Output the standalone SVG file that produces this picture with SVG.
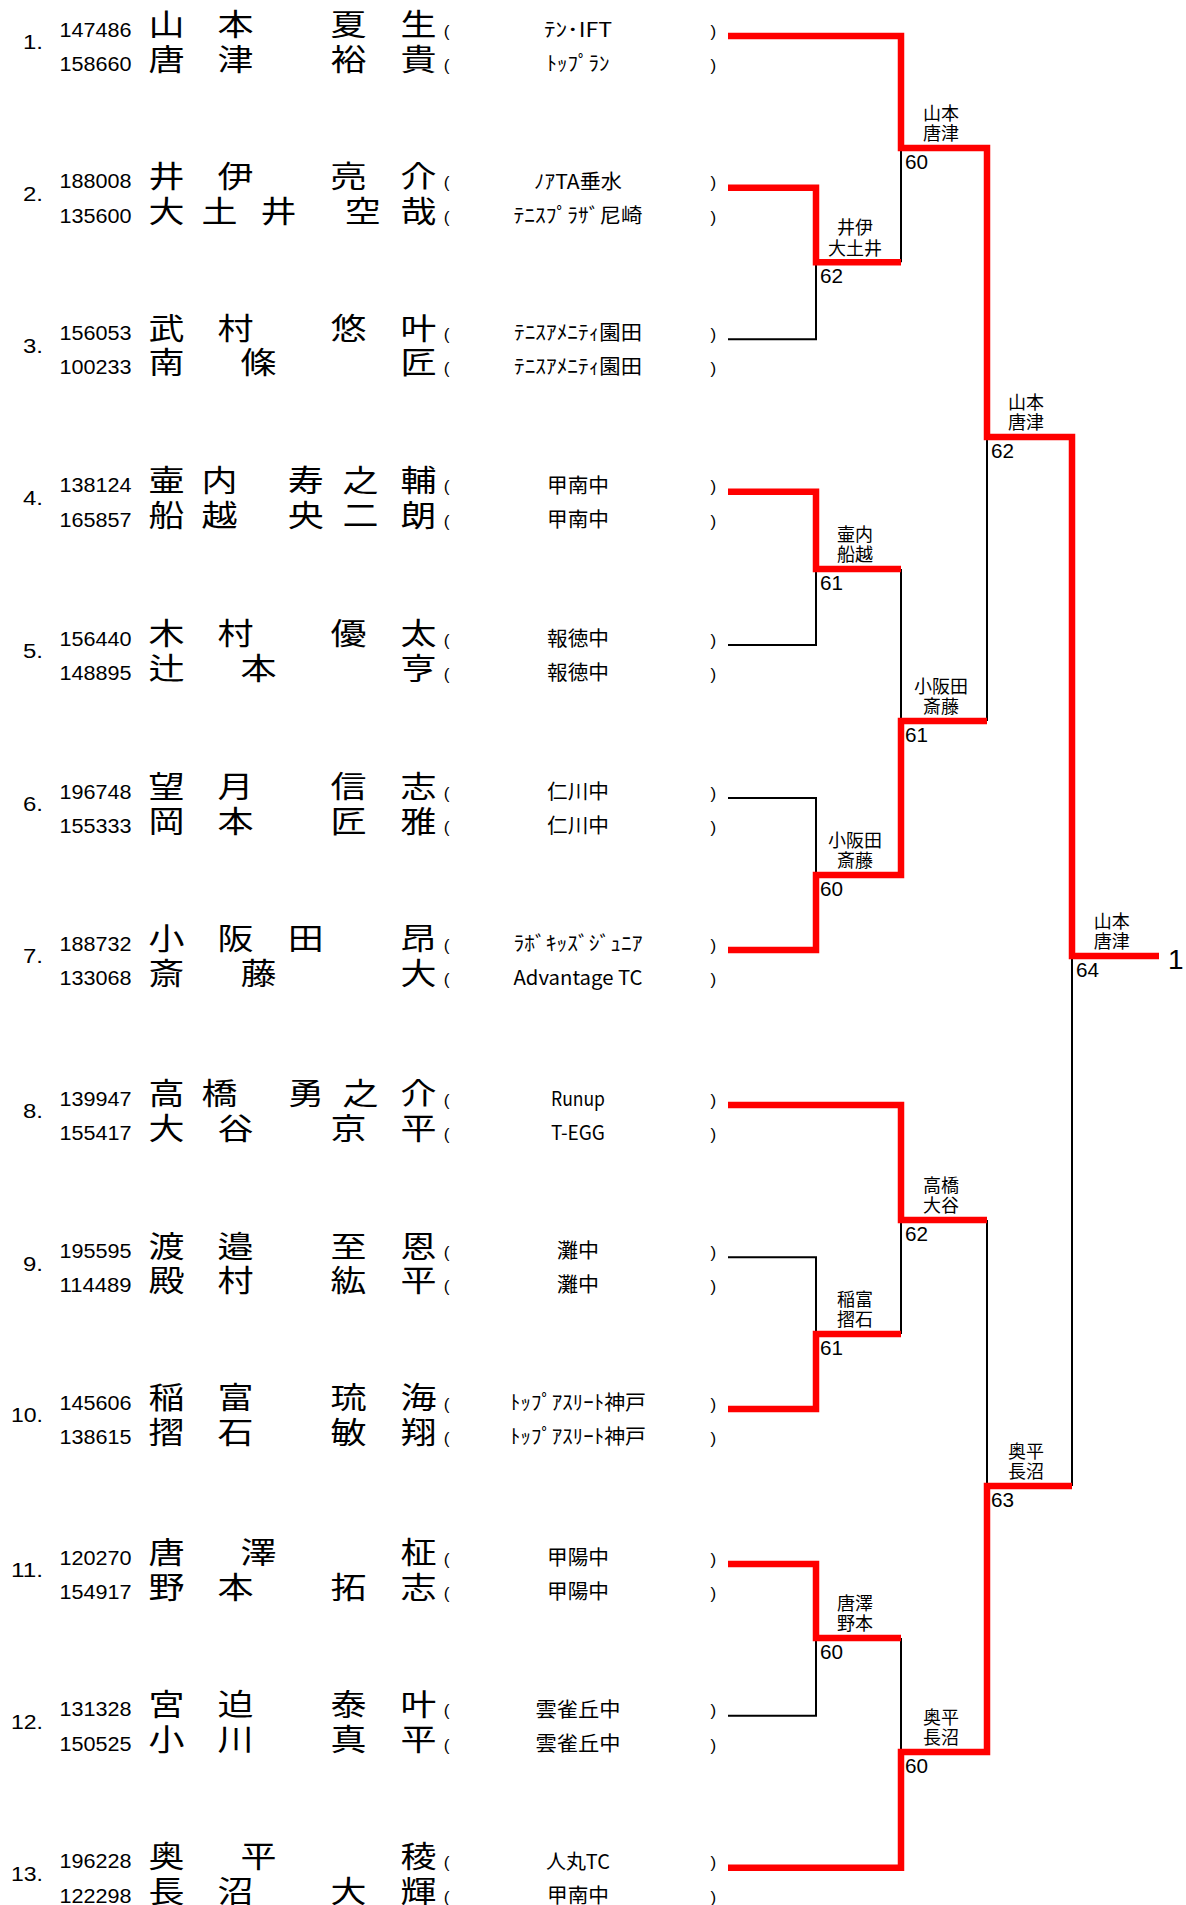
<svg xmlns="http://www.w3.org/2000/svg" width="1186" height="1905" viewBox="0 0 1186 1905">
<style>
.no{font-family:"Liberation Sans",Arial,sans-serif;font-size:20px;text-anchor:end}
.id{font-family:"Liberation Sans",Arial,sans-serif;font-size:20px;text-anchor:end}
.nm{font-family:"Noto Sans CJK JP","Noto Sans CJK SC",sans-serif;font-size:30px}
.pr{font-family:"Liberation Sans",Arial,sans-serif;font-size:17px}
.cl{font-family:"Noto Sans CJK JP","Noto Sans CJK SC",sans-serif;font-size:20px;text-anchor:middle}
.lb{font-family:"Noto Sans CJK JP","Noto Sans CJK SC",sans-serif;font-size:18px;text-anchor:middle}
.sc{font-family:"Liberation Sans",Arial,sans-serif;font-size:20px}
.red{stroke:#ff0000;stroke-width:6.5;fill:none;stroke-linejoin:miter}
.blk{stroke:#000;stroke-width:2;fill:none}
</style>
<rect width="1186" height="1905" fill="#fff"/>

<g id="connectors">
<path class="blk" d="M728,339.3 H816 V262.3"/>
<path class="blk" d="M728,645 H816 V569"/>
<path class="blk" d="M728,798 H816 V875"/>
<path class="blk" d="M728,1257.3 H816 V1334"/>
<path class="blk" d="M728,1715.7 H816 V1638"/>
<path class="blk" d="M901,148 V262.3"/>
<path class="blk" d="M901,569 V721"/>
<path class="blk" d="M901,1220 V1334"/>
<path class="blk" d="M901,1638 V1752"/>
<path class="blk" d="M987,437 V721"/>
<path class="blk" d="M987,1220 V1486"/>
<path class="blk" d="M1072,956 V1486"/>
<path class="red" d="M728,36 H901 V148 H987 V437 H1072 V956 H1159"/>
<path class="red" d="M728,187.7 H816 V262.3 H901"/>
<path class="red" d="M728,491.7 H816 V569 H901"/>
<path class="red" d="M728,950 H816 V875 H901 V721 H987"/>
<path class="red" d="M728,1105 H901 V1220 H987"/>
<path class="red" d="M728,1409 H816 V1334 H901"/>
<path class="red" d="M728,1564 H816 V1638 H901"/>
<path class="red" d="M728,1867.7 H901 V1752 H987 V1486 H1072"/>
</g>

<g id="entry-1">
<text class="no" x="43" y="49" textLength="20" lengthAdjust="spacingAndGlyphs">1.</text>
<text class="id" x="131.5" y="36.5" textLength="72" lengthAdjust="spacingAndGlyphs">147486</text>
<text class="id" x="131.5" y="71" textLength="72" lengthAdjust="spacingAndGlyphs">158660</text>
<text class="nm" transform="scale(1.2,1)" x="123.8 181.3 275.5 333.8" y="35.5">山本夏生</text>
<text class="nm" transform="scale(1.2,1)" x="123.8 181.3 275.5 333.8" y="70">唐津裕貴</text>
<text class="pr" x="443.8" y="36.5">(</text><text class="pr" x="710.5" y="36.5">)</text>
<text class="pr" x="443.8" y="71">(</text><text class="pr" x="710.5" y="71">)</text>
<text class="cl" x="578" y="37" textLength="68" lengthAdjust="spacingAndGlyphs">ﾃﾝ･IFT</text>
<text class="cl" x="578" y="71" textLength="63" lengthAdjust="spacingAndGlyphs">ﾄｯﾌﾟﾗﾝ</text>
</g>

<g id="entry-2">
<text class="no" x="43" y="201" textLength="20" lengthAdjust="spacingAndGlyphs">2.</text>
<text class="id" x="131.5" y="188.2" textLength="72" lengthAdjust="spacingAndGlyphs">188008</text>
<text class="id" x="131.5" y="222.7" textLength="72" lengthAdjust="spacingAndGlyphs">135600</text>
<text class="nm" transform="scale(1.2,1)" x="123.8 181.3 275.5 333.8" y="187.2">井伊亮介</text>
<text class="nm" transform="scale(1.2,1)" x="123.8 168 217.2 287.2 333.8" y="221.7">大土井空哉</text>
<text class="pr" x="443.8" y="188.2">(</text><text class="pr" x="710.5" y="188.2">)</text>
<text class="pr" x="443.8" y="222.7">(</text><text class="pr" x="710.5" y="222.7">)</text>
<text class="cl" x="578" y="188.7" textLength="88" lengthAdjust="spacingAndGlyphs">ﾉｱTA垂水</text>
<text class="cl" x="578" y="222.7" textLength="129" lengthAdjust="spacingAndGlyphs">ﾃﾆｽﾌﾟﾗｻﾞ尼崎</text>
</g>

<g id="entry-3">
<text class="no" x="43" y="352.5" textLength="20" lengthAdjust="spacingAndGlyphs">3.</text>
<text class="id" x="131.5" y="339.8" textLength="72" lengthAdjust="spacingAndGlyphs">156053</text>
<text class="id" x="131.5" y="374.3" textLength="72" lengthAdjust="spacingAndGlyphs">100233</text>
<text class="nm" transform="scale(1.2,1)" x="123.8 181.3 275.5 333.8" y="338.8">武村悠叶</text>
<text class="nm" transform="scale(1.2,1)" x="123.8 200.5 333.8" y="373.3">南條匠</text>
<text class="pr" x="443.8" y="339.8">(</text><text class="pr" x="710.5" y="339.8">)</text>
<text class="pr" x="443.8" y="374.3">(</text><text class="pr" x="710.5" y="374.3">)</text>
<text class="cl" x="578" y="340.3" textLength="128" lengthAdjust="spacingAndGlyphs">ﾃﾆｽｱﾒﾆﾃｨ園田</text>
<text class="cl" x="578" y="374.3" textLength="128" lengthAdjust="spacingAndGlyphs">ﾃﾆｽｱﾒﾆﾃｨ園田</text>
</g>

<g id="entry-4">
<text class="no" x="43" y="505" textLength="20" lengthAdjust="spacingAndGlyphs">4.</text>
<text class="id" x="131.5" y="492.2" textLength="72" lengthAdjust="spacingAndGlyphs">138124</text>
<text class="id" x="131.5" y="526.7" textLength="72" lengthAdjust="spacingAndGlyphs">165857</text>
<text class="nm" transform="scale(1.2,1)" x="123.8 168 239.7 285.5 333.8" y="491.2">壷内寿之輔</text>
<text class="nm" transform="scale(1.2,1)" x="123.8 168 239.7 285.5 333.8" y="525.7">船越央二朗</text>
<text class="pr" x="443.8" y="492.2">(</text><text class="pr" x="710.5" y="492.2">)</text>
<text class="pr" x="443.8" y="526.7">(</text><text class="pr" x="710.5" y="526.7">)</text>
<text class="cl" x="578" y="492.7" textLength="62" lengthAdjust="spacingAndGlyphs">甲南中</text>
<text class="cl" x="578" y="526.7" textLength="62" lengthAdjust="spacingAndGlyphs">甲南中</text>
</g>

<g id="entry-5">
<text class="no" x="43" y="658.3" textLength="20" lengthAdjust="spacingAndGlyphs">5.</text>
<text class="id" x="131.5" y="645.5" textLength="72" lengthAdjust="spacingAndGlyphs">156440</text>
<text class="id" x="131.5" y="680" textLength="72" lengthAdjust="spacingAndGlyphs">148895</text>
<text class="nm" transform="scale(1.2,1)" x="123.8 181.3 275.5 333.8" y="644.5">木村優太</text>
<text class="nm" transform="scale(1.2,1)" x="123.8 200.5 333.8" y="679">辻本亨</text>
<text class="pr" x="443.8" y="645.5">(</text><text class="pr" x="710.5" y="645.5">)</text>
<text class="pr" x="443.8" y="680">(</text><text class="pr" x="710.5" y="680">)</text>
<text class="cl" x="578" y="646" textLength="62" lengthAdjust="spacingAndGlyphs">報徳中</text>
<text class="cl" x="578" y="680" textLength="62" lengthAdjust="spacingAndGlyphs">報徳中</text>
</g>

<g id="entry-6">
<text class="no" x="43" y="811.3" textLength="20" lengthAdjust="spacingAndGlyphs">6.</text>
<text class="id" x="131.5" y="798.5" textLength="72" lengthAdjust="spacingAndGlyphs">196748</text>
<text class="id" x="131.5" y="833" textLength="72" lengthAdjust="spacingAndGlyphs">155333</text>
<text class="nm" transform="scale(1.2,1)" x="123.8 181.3 275.5 333.8" y="797.5">望月信志</text>
<text class="nm" transform="scale(1.2,1)" x="123.8 181.3 275.5 333.8" y="832">岡本匠雅</text>
<text class="pr" x="443.8" y="798.5">(</text><text class="pr" x="710.5" y="798.5">)</text>
<text class="pr" x="443.8" y="833">(</text><text class="pr" x="710.5" y="833">)</text>
<text class="cl" x="578" y="799" textLength="62" lengthAdjust="spacingAndGlyphs">仁川中</text>
<text class="cl" x="578" y="833" textLength="62" lengthAdjust="spacingAndGlyphs">仁川中</text>
</g>

<g id="entry-7">
<text class="no" x="43" y="963.3" textLength="20" lengthAdjust="spacingAndGlyphs">7.</text>
<text class="id" x="131.5" y="950.5" textLength="72" lengthAdjust="spacingAndGlyphs">188732</text>
<text class="id" x="131.5" y="985" textLength="72" lengthAdjust="spacingAndGlyphs">133068</text>
<text class="nm" transform="scale(1.2,1)" x="123.8 181.3 239.7 333.8" y="949.5">小阪田昂</text>
<text class="nm" transform="scale(1.2,1)" x="123.8 200.5 333.8" y="984">斎藤大</text>
<text class="pr" x="443.8" y="950.5">(</text><text class="pr" x="710.5" y="950.5">)</text>
<text class="pr" x="443.8" y="985">(</text><text class="pr" x="710.5" y="985">)</text>
<text class="cl" x="578" y="951" textLength="129" lengthAdjust="spacingAndGlyphs">ﾗﾎﾞｷｯｽﾞｼﾞｭﾆｱ</text>
<text class="cl" x="578" y="985" textLength="129" lengthAdjust="spacingAndGlyphs">Advantage TC</text>
</g>

<g id="entry-8">
<text class="no" x="43" y="1118.3" textLength="20" lengthAdjust="spacingAndGlyphs">8.</text>
<text class="id" x="131.5" y="1105.5" textLength="72" lengthAdjust="spacingAndGlyphs">139947</text>
<text class="id" x="131.5" y="1140" textLength="72" lengthAdjust="spacingAndGlyphs">155417</text>
<text class="nm" transform="scale(1.2,1)" x="123.8 168 239.7 285.5 333.8" y="1104.5">高橋勇之介</text>
<text class="nm" transform="scale(1.2,1)" x="123.8 181.3 275.5 333.8" y="1139">大谷京平</text>
<text class="pr" x="443.8" y="1105.5">(</text><text class="pr" x="710.5" y="1105.5">)</text>
<text class="pr" x="443.8" y="1140">(</text><text class="pr" x="710.5" y="1140">)</text>
<text class="cl" x="578" y="1106" textLength="54" lengthAdjust="spacingAndGlyphs">Runup</text>
<text class="cl" x="578" y="1140" textLength="54" lengthAdjust="spacingAndGlyphs">T-EGG</text>
</g>

<g id="entry-9">
<text class="no" x="43" y="1270.6" textLength="20" lengthAdjust="spacingAndGlyphs">9.</text>
<text class="id" x="131.5" y="1257.8" textLength="72" lengthAdjust="spacingAndGlyphs">195595</text>
<text class="id" x="131.5" y="1292.3" textLength="72" lengthAdjust="spacingAndGlyphs">114489</text>
<text class="nm" transform="scale(1.2,1)" x="123.8 181.3 275.5 333.8" y="1256.8">渡邉至恩</text>
<text class="nm" transform="scale(1.2,1)" x="123.8 181.3 275.5 333.8" y="1291.3">殿村紘平</text>
<text class="pr" x="443.8" y="1257.8">(</text><text class="pr" x="710.5" y="1257.8">)</text>
<text class="pr" x="443.8" y="1292.3">(</text><text class="pr" x="710.5" y="1292.3">)</text>
<text class="cl" x="578" y="1258.3" textLength="42" lengthAdjust="spacingAndGlyphs">灘中</text>
<text class="cl" x="578" y="1292.3" textLength="42" lengthAdjust="spacingAndGlyphs">灘中</text>
</g>

<g id="entry-10">
<text class="no" x="43" y="1422.3" textLength="32" lengthAdjust="spacingAndGlyphs">10.</text>
<text class="id" x="131.5" y="1409.5" textLength="72" lengthAdjust="spacingAndGlyphs">145606</text>
<text class="id" x="131.5" y="1444" textLength="72" lengthAdjust="spacingAndGlyphs">138615</text>
<text class="nm" transform="scale(1.2,1)" x="123.8 181.3 275.5 333.8" y="1408.5">稲富琉海</text>
<text class="nm" transform="scale(1.2,1)" x="123.8 181.3 275.5 333.8" y="1443">摺石敏翔</text>
<text class="pr" x="443.8" y="1409.5">(</text><text class="pr" x="710.5" y="1409.5">)</text>
<text class="pr" x="443.8" y="1444">(</text><text class="pr" x="710.5" y="1444">)</text>
<text class="cl" x="578" y="1410" textLength="136" lengthAdjust="spacingAndGlyphs">ﾄｯﾌﾟｱｽﾘｰﾄ神戸</text>
<text class="cl" x="578" y="1444" textLength="136" lengthAdjust="spacingAndGlyphs">ﾄｯﾌﾟｱｽﾘｰﾄ神戸</text>
</g>

<g id="entry-11">
<text class="no" x="43" y="1577" textLength="32" lengthAdjust="spacingAndGlyphs">11.</text>
<text class="id" x="131.5" y="1564.5" textLength="72" lengthAdjust="spacingAndGlyphs">120270</text>
<text class="id" x="131.5" y="1599" textLength="72" lengthAdjust="spacingAndGlyphs">154917</text>
<text class="nm" transform="scale(1.2,1)" x="123.8 200.5 333.8" y="1563.5">唐澤柾</text>
<text class="nm" transform="scale(1.2,1)" x="123.8 181.3 275.5 333.8" y="1598">野本拓志</text>
<text class="pr" x="443.8" y="1564.5">(</text><text class="pr" x="710.5" y="1564.5">)</text>
<text class="pr" x="443.8" y="1599">(</text><text class="pr" x="710.5" y="1599">)</text>
<text class="cl" x="578" y="1565" textLength="62" lengthAdjust="spacingAndGlyphs">甲陽中</text>
<text class="cl" x="578" y="1599" textLength="62" lengthAdjust="spacingAndGlyphs">甲陽中</text>
</g>

<g id="entry-12">
<text class="no" x="43" y="1729" textLength="32" lengthAdjust="spacingAndGlyphs">12.</text>
<text class="id" x="131.5" y="1716.2" textLength="72" lengthAdjust="spacingAndGlyphs">131328</text>
<text class="id" x="131.5" y="1750.7" textLength="72" lengthAdjust="spacingAndGlyphs">150525</text>
<text class="nm" transform="scale(1.2,1)" x="123.8 181.3 275.5 333.8" y="1715.2">宮迫泰叶</text>
<text class="nm" transform="scale(1.2,1)" x="123.8 181.3 275.5 333.8" y="1749.7">小川真平</text>
<text class="pr" x="443.8" y="1716.2">(</text><text class="pr" x="710.5" y="1716.2">)</text>
<text class="pr" x="443.8" y="1750.7">(</text><text class="pr" x="710.5" y="1750.7">)</text>
<text class="cl" x="578" y="1716.7" textLength="85" lengthAdjust="spacingAndGlyphs">雲雀丘中</text>
<text class="cl" x="578" y="1750.7" textLength="85" lengthAdjust="spacingAndGlyphs">雲雀丘中</text>
</g>

<g id="entry-13">
<text class="no" x="43" y="1880.5" textLength="32" lengthAdjust="spacingAndGlyphs">13.</text>
<text class="id" x="131.5" y="1868.2" textLength="72" lengthAdjust="spacingAndGlyphs">196228</text>
<text class="id" x="131.5" y="1902.7" textLength="72" lengthAdjust="spacingAndGlyphs">122298</text>
<text class="nm" transform="scale(1.2,1)" x="123.8 200.5 333.8" y="1867.2">奥平稜</text>
<text class="nm" transform="scale(1.2,1)" x="123.8 181.3 275.5 333.8" y="1901.7">長沼大輝</text>
<text class="pr" x="443.8" y="1868.2">(</text><text class="pr" x="710.5" y="1868.2">)</text>
<text class="pr" x="443.8" y="1902.7">(</text><text class="pr" x="710.5" y="1902.7">)</text>
<text class="cl" x="578" y="1868.7" textLength="64" lengthAdjust="spacingAndGlyphs">人丸TC</text>
<text class="cl" x="578" y="1902.7" textLength="62" lengthAdjust="spacingAndGlyphs">甲南中</text>
</g>

<g id="match-r1-1"><text class="lb"><tspan x="855" y="234">井伊</tspan><tspan x="855" y="254.5">大土井</tspan></text><text class="sc" x="820" y="283.3" textLength="23" lengthAdjust="spacingAndGlyphs">62</text></g>
<g id="match-r1-2"><text class="lb"><tspan x="855" y="540.7">壷内</tspan><tspan x="855" y="561.2">船越</tspan></text><text class="sc" x="820" y="590" textLength="23" lengthAdjust="spacingAndGlyphs">61</text></g>
<g id="match-r1-3"><text class="lb"><tspan x="855" y="846.7">小阪田</tspan><tspan x="855" y="867.2">斎藤</tspan></text><text class="sc" x="820" y="896" textLength="23" lengthAdjust="spacingAndGlyphs">60</text></g>
<g id="match-r1-4"><text class="lb"><tspan x="855" y="1305.7">稲富</tspan><tspan x="855" y="1326.2">摺石</tspan></text><text class="sc" x="820" y="1355" textLength="23" lengthAdjust="spacingAndGlyphs">61</text></g>
<g id="match-r1-5"><text class="lb"><tspan x="855" y="1609.7">唐澤</tspan><tspan x="855" y="1630.2">野本</tspan></text><text class="sc" x="820" y="1659" textLength="23" lengthAdjust="spacingAndGlyphs">60</text></g>
<g id="match-r2-1"><text class="lb"><tspan x="941" y="119.5">山本</tspan><tspan x="941" y="140">唐津</tspan></text><text class="sc" x="905" y="169" textLength="23" lengthAdjust="spacingAndGlyphs">60</text></g>
<g id="match-r2-2"><text class="lb"><tspan x="941" y="692.7">小阪田</tspan><tspan x="941" y="713.2">斎藤</tspan></text><text class="sc" x="905" y="742" textLength="23" lengthAdjust="spacingAndGlyphs">61</text></g>
<g id="match-r2-3"><text class="lb"><tspan x="941" y="1191.7">高橋</tspan><tspan x="941" y="1212.2">大谷</tspan></text><text class="sc" x="905" y="1241" textLength="23" lengthAdjust="spacingAndGlyphs">62</text></g>
<g id="match-r2-4"><text class="lb"><tspan x="941" y="1723.7">奥平</tspan><tspan x="941" y="1744.2">長沼</tspan></text><text class="sc" x="905" y="1773" textLength="23" lengthAdjust="spacingAndGlyphs">60</text></g>
<g id="match-r3-1"><text class="lb"><tspan x="1026" y="408.5">山本</tspan><tspan x="1026" y="429">唐津</tspan></text><text class="sc" x="991" y="458" textLength="23" lengthAdjust="spacingAndGlyphs">62</text></g>
<g id="match-r3-2"><text class="lb"><tspan x="1026" y="1457.5">奥平</tspan><tspan x="1026" y="1478">長沼</tspan></text><text class="sc" x="991" y="1507" textLength="23" lengthAdjust="spacingAndGlyphs">63</text></g>
<g id="match-final"><text class="lb"><tspan x="1111.7" y="927.5">山本</tspan><tspan x="1111.7" y="948">唐津</tspan></text><text class="sc" x="1076" y="977" textLength="23" lengthAdjust="spacingAndGlyphs">64</text></g>
<g id="champion"><text class="sc" x="1168" y="969" style="font-size:28px">1</text></g>
</svg>
